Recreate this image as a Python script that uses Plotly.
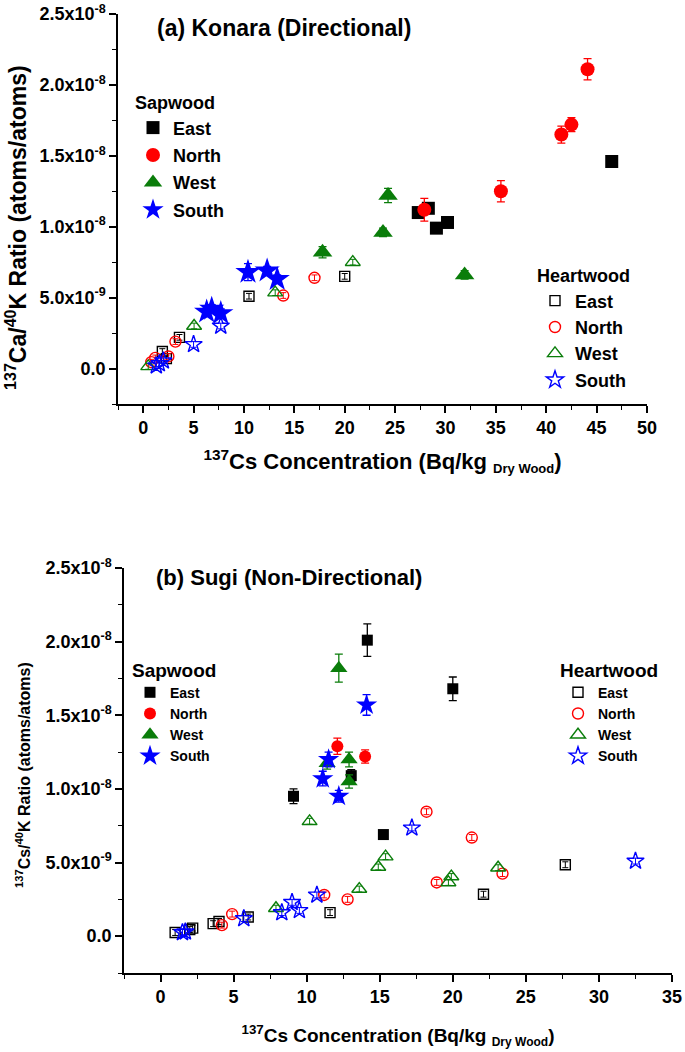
import numpy as np
import plotly.graph_objects as go

# ---------------- data (y in units of 1e-9 atoms/atoms) ----------------
# (a) Konara
a_sap_east_x = [27.3, 28.3, 29.1, 30.2, 46.5]
a_sap_east_y = [11.0, 11.3, 9.9, 10.3, 14.6]
a_sap_east_e = [0.3, 0.3, 0.3, 0.3, 0.4]
a_sap_north_x = [27.9, 35.5, 41.5, 42.5, 44.1]
a_sap_north_y = [11.2, 12.5, 16.5, 17.2, 21.1]
a_sap_north_e = [0.8, 0.75, 0.6, 0.5, 0.75]
a_sap_west_x = [17.8, 23.8, 24.3, 31.9]
a_sap_west_y = [8.2, 9.6, 12.2, 6.6]
a_sap_west_e = [0.4, 0.3, 0.5, 0.3]
a_sap_south_x = [6.3, 6.8, 7.7, 10.4, 12.3, 13.3]
a_sap_south_y = [4.0, 4.2, 3.9, 6.8, 6.9, 6.3]
a_sap_south_e = [0.3, 0.3, 0.3, 0.6, 0.3, 0.3]

a_hrt_east_x = [1.9, 2.3, 3.6, 10.5, 20.0]
a_hrt_east_y = [1.2, 0.7, 2.2, 5.1, 6.5]
a_hrt_north_x = [0.8, 1.2, 2.5, 3.2, 13.9, 17.0]
a_hrt_north_y = [0.45, 0.75, 0.85, 1.9, 5.15, 6.4]
a_hrt_west_x = [0.5, 5.05, 13.1, 20.8]
a_hrt_west_y = [0.15, 3.0, 5.35, 7.5]
a_hrt_south_x = [1.3, 1.6, 2.0, 5.0, 7.7]
a_hrt_south_y = [0.2, 0.35, 0.55, 1.7, 3.0]

# (b) Sugi
b_sap_east_x = [9.1, 13.05, 14.15, 15.25, 20.0]
b_sap_east_y = [9.5, 10.9, 20.1, 6.9, 16.8]
b_sap_east_e = [0.5, 0.4, 1.1, 0.2, 0.8]
b_sap_north_x = [12.1, 14.0]
b_sap_north_y = [12.9, 12.2]
b_sap_north_e = [0.55, 0.45]
b_sap_west_x = [11.4, 12.2, 12.9, 12.9]
b_sap_west_y = [11.75, 18.2, 12.0, 10.5]
b_sap_west_e = [0.4, 0.95, 0.5, 0.45]
b_sap_south_x = [11.1, 11.5, 12.2, 14.1]
b_sap_south_y = [10.7, 12.0, 9.5, 15.7]
b_sap_south_e = [0.5, 0.5, 0.4, 0.7]

b_hrt_east_x = [1.0, 2.0, 2.2, 3.6, 4.0, 6.0, 11.6, 22.1, 27.7]
b_hrt_east_y = [0.25, 0.45, 0.55, 0.85, 1.0, 1.3, 1.6, 2.85, 4.85]
b_hrt_north_x = [4.2, 4.9, 11.2, 12.8, 18.2, 18.9, 21.3, 23.4]
b_hrt_north_y = [0.75, 1.5, 2.8, 2.5, 8.45, 3.65, 6.7, 4.25]
b_hrt_west_x = [7.9, 10.2, 13.6, 14.9, 15.4, 19.7, 19.9, 23.1]
b_hrt_west_y = [1.9, 7.8, 3.2, 4.7, 5.4, 3.65, 4.05, 4.65]
b_hrt_south_x = [1.5, 1.7, 5.7, 8.3, 9.0, 9.5, 10.7, 17.2, 32.5]
b_hrt_south_y = [0.25, 0.3, 1.2, 1.6, 2.3, 1.75, 2.8, 7.35, 5.1]

directions = ["East", "North", "West", "South"]
colors = {"East": "#000000", "North": "#ff0000", "West": "#0a7d0a", "South": "#0000ff"}
filled_sym = {"East": "square", "North": "circle", "West": "triangle-up", "South": "star"}

y_tickvals = [0, 5, 10, 15, 20, 25]
y_ticktext = ["0.0", "5.0x10<sup>-9</sup>", "1.0x10<sup>-8</sup>", "1.5x10<sup>-8</sup>",
              "2.0x10<sup>-8</sup>", "2.5x10<sup>-8</sup>"]

FONT = "Liberation Sans"
S = 1e-9

fig = go.Figure()

a_sap = {"East": (a_sap_east_x, a_sap_east_y, a_sap_east_e),
         "North": (a_sap_north_x, a_sap_north_y, a_sap_north_e),
         "West": (a_sap_west_x, a_sap_west_y, a_sap_west_e),
         "South": (a_sap_south_x, a_sap_south_y, a_sap_south_e)}
a_hrt = {"East": (a_hrt_east_x, a_hrt_east_y),
         "North": (a_hrt_north_x, a_hrt_north_y),
         "West": (a_hrt_west_x, a_hrt_west_y),
         "South": (a_hrt_south_x, a_hrt_south_y)}
b_sap = {"East": (b_sap_east_x, b_sap_east_y, b_sap_east_e),
         "North": (b_sap_north_x, b_sap_north_y, b_sap_north_e),
         "West": (b_sap_west_x, b_sap_west_y, b_sap_west_e),
         "South": (b_sap_south_x, b_sap_south_y, b_sap_south_e)}
b_hrt = {"East": (b_hrt_east_x, b_hrt_east_y),
         "North": (b_hrt_north_x, b_hrt_north_y),
         "West": (b_hrt_west_x, b_hrt_west_y),
         "South": (b_hrt_south_x, b_hrt_south_y)}

fsize_a = {"East": 13, "North": 14, "West": 17, "South": 19}
hsize_a = {"East": 10, "North": 11, "West": 13, "South": 13}
fsize_b = {"East": 11, "North": 12, "West": 15, "South": 16}
hsize_b = {"East": 10, "North": 11, "West": 13, "South": 13}

def add_group(data, xa, ya, legend, filled, sizes, tag):
    for d in directions:
        c = colors[d]
        if filled:
            x, y, e = data[d]
            sym = filled_sym[d]
            marker = dict(symbol=sym, size=sizes[d], color=c, line=dict(width=0))
            err = dict(type="data", array=np.array(e) * S, color=c, thickness=1.3, width=4)
        else:
            x, y = data[d]
            sym = filled_sym[d] + "-open"
            marker = dict(symbol=sym, size=sizes[d], color=c, line=dict(width=1.4, color=c))
            err = dict(type="constant", value=0.2 * S, color=c, thickness=1, width=3)
        fig.add_trace(go.Scatter(
            x=x, y=np.array(y) * S, mode="markers", name=d, marker=marker,
            error_y=err, xaxis=xa, yaxis=ya, legend=legend,
            legendgroup=tag + d, showlegend=True))

add_group(a_sap, "x", "y", "legend", True, fsize_a, "as")
add_group(a_hrt, "x", "y", "legend2", False, hsize_a, "ah")
add_group(b_sap, "x2", "y2", "legend3", True, fsize_b, "bs")
add_group(b_hrt, "x2", "y2", "legend4", False, hsize_b, "bh")

W, H = 685, 1052
def px(v): return v / W
def py(v): return 1 - v / H

tickfont = dict(family=FONT, size=18, color="black", weight="bold")
axis_common = dict(showline=True, linecolor="black", linewidth=1.5, ticks="outside",
                   ticklen=7, tickwidth=1.5, tickcolor="black", showgrid=False,
                   zeroline=False, tickfont=tickfont, mirror=False, automargin=False)

def xtitle(sub):
    return ("<sup>137</sup>Cs Concentration (Bq/kg <sub><span style='font-size:%dpx'>Dry Wood</span></sub>)" % sub)

fig.update_layout(
    width=W, height=H, autosize=False,
    margin=dict(l=0, r=0, t=0, b=0, autoexpand=False),
    paper_bgcolor="white", plot_bgcolor="white",
    font=dict(family=FONT, color="black"),
    xaxis=dict(domain=[px(118), px(647)], range=[-2.5, 50], anchor="y",
               tickmode="array", tickvals=list(range(0, 51, 5)),
               minor=dict(tickmode="array", tickvals=[-2.5 + 5 * i for i in range(11)],
                          ticks="outside", ticklen=4, tickwidth=1.2, tickcolor="black"),
               title=dict(text=xtitle(13), font=dict(family=FONT, size=22, weight="bold"), standoff=16),
               **axis_common),
    yaxis=dict(domain=[py(404), py(14)], range=[-2.5 * S, 25 * S], anchor="x",
               tickmode="array", tickvals=[v * S for v in y_tickvals], ticktext=y_ticktext,
               minor=dict(tickmode="array", tickvals=[(-2.5 + 5 * i) * S for i in range(6)],
                          ticks="outside", ticklen=4, tickwidth=1.2, tickcolor="black"),
               **axis_common),
    xaxis2=dict(domain=[px(124), px(672)], range=[-2.5, 35], anchor="y2",
                tickmode="array", tickvals=list(range(0, 36, 5)),
                minor=dict(tickmode="array", tickvals=[-2.5 + 5 * i for i in range(8)],
                           ticks="outside", ticklen=4, tickwidth=1.2, tickcolor="black"),
                title=dict(text=xtitle(12), font=dict(family=FONT, size=19, weight="bold"), standoff=22),
                **axis_common),
    yaxis2=dict(domain=[py(973), py(568)], range=[-2.5 * S, 25 * S], anchor="x2",
                tickmode="array", tickvals=[v * S for v in y_tickvals], ticktext=y_ticktext,
                minor=dict(tickmode="array", tickvals=[(-2.5 + 5 * i) * S for i in range(6)],
                           ticks="outside", ticklen=4, tickwidth=1.2, tickcolor="black"),
                **axis_common),
    legend=dict(x=px(133), y=py(86), xanchor="left", yanchor="top",
                title=dict(text="Sapwood", font=dict(family=FONT, size=18, weight="bold")),
                font=dict(family=FONT, size=18, weight="bold"), tracegroupgap=1,
                bgcolor="rgba(0,0,0,0)", itemsizing="trace"),
    legend2=dict(x=px(535), y=py(259), xanchor="left", yanchor="top",
                 title=dict(text="Heartwood", font=dict(family=FONT, size=18, weight="bold")),
                 font=dict(family=FONT, size=18, weight="bold"), tracegroupgap=0,
                 bgcolor="rgba(0,0,0,0)", itemsizing="trace"),
    legend3=dict(x=px(130), y=py(652), xanchor="left", yanchor="top",
                 title=dict(text="Sapwood", font=dict(family=FONT, size=19, weight="bold")),
                 font=dict(family=FONT, size=14, weight="bold"), tracegroupgap=0,
                 bgcolor="rgba(0,0,0,0)", itemsizing="trace"),
    legend4=dict(x=px(558), y=py(652), xanchor="left", yanchor="top",
                 title=dict(text="Heartwood", font=dict(family=FONT, size=19, weight="bold")),
                 font=dict(family=FONT, size=14, weight="bold"), tracegroupgap=0,
                 bgcolor="rgba(0,0,0,0)", itemsizing="trace"),
    annotations=[
        dict(text="(a) Konara (Directional)", x=px(155), y=py(28), xref="paper", yref="paper",
             xanchor="left", yanchor="middle", showarrow=False,
             font=dict(family=FONT, size=23, weight="bold")),
        dict(text="(b) Sugi (Non-Directional)", x=px(154), y=py(577), xref="paper", yref="paper",
             xanchor="left", yanchor="middle", showarrow=False,
             font=dict(family=FONT, size=22, weight="bold")),
        dict(text="<sup>137</sup>Ca/<sup>40</sup>K Ratio (atoms/atoms)", textangle=-90,
             x=px(16), y=py(228), xref="paper", yref="paper",
             xanchor="center", yanchor="middle", showarrow=False,
             font=dict(family=FONT, size=23, weight="bold")),
        dict(text="<sup>137</sup>Cs/<sup>40</sup>K Ratio (atoms/atoms)", textangle=-90,
             x=px(23), y=py(775), xref="paper", yref="paper",
             xanchor="center", yanchor="middle", showarrow=False,
             font=dict(family=FONT, size=16, weight="bold")),
    ],
)

fig.write_html("out.html", config={"displayModeBar": False},
               post_script="document.body.style.margin='0';")
